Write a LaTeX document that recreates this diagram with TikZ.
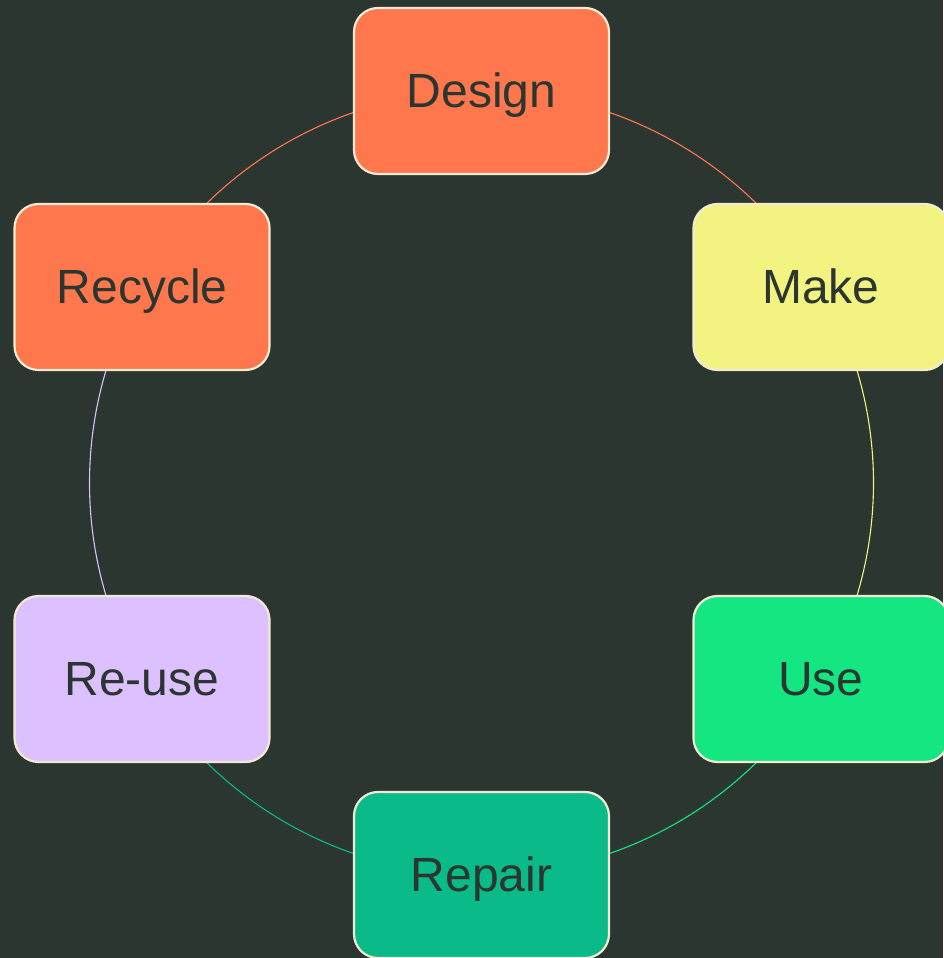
\documentclass[tikz,border=0pt]{standalone}
\usepackage{fontspec}
\setmainfont{Liberation Sans}
\definecolor{bgdark}{HTML}{2B3630}
\definecolor{edgecream}{HTML}{F2EBD3}
\definecolor{stageorange}{HTML}{FF774D}
\definecolor{stageyellow}{HTML}{F3F381}
\definecolor{stagegreen}{HTML}{14E681}
\definecolor{stageteal}{HTML}{0ABB89}
\definecolor{stagelilac}{HTML}{DCC0FF}
\tikzset{
  stage/.style={draw=edgecream, line width=2.2pt, rounded corners=24pt,
    minimum width=255pt, minimum height=166pt, inner sep=0pt,
    text height=33pt, text depth=0pt,
    text=bgdark, font=\fontsize{48}{56}\selectfont},
  loop/.style={line width=1.1pt},
}
\begin{document}
\begin{tikzpicture}[x=1pt,y=1pt]
  \fill[bgdark] (0,0) rectangle (943,958);
  \useasboundingbox (0,0) rectangle (943,958);
  \coordinate (c) at (481.5,475);
  % the cycle: arcs of one circle, each coloured as the stage it leaves
  \draw[loop, stageorange] ([shift={(150:392)}]c) arc[start angle=150, end angle=90, radius=392];
  \draw[loop, stageorange] ([shift={(90:392)}]c) arc[start angle=90, end angle=30, radius=392];
  \draw[loop, stageyellow] ([shift={(30:392)}]c) arc[start angle=30, end angle=-30, radius=392];
  \draw[loop, stagegreen] ([shift={(-30:392)}]c) arc[start angle=-30, end angle=-90, radius=392];
  \draw[loop, stageteal] ([shift={(-90:392)}]c) arc[start angle=-90, end angle=-150, radius=392];
  \draw[loop, stagelilac] ([shift={(210:392)}]c) arc[start angle=210, end angle=150, radius=392];
  % stages
  \node[stage, fill=stageorange] (design) at ([shift={(90:392)}]c) {Design};
  \node[stage, fill=stageyellow] (make) at ([shift={(30:392)}]c) {Make};
  \node[stage, fill=stagegreen] (use) at ([shift={(-30:392)}]c) {Use};
  \node[stage, fill=stageteal] (repair) at ([shift={(-90:392)}]c) {Repair};
  \node[stage, fill=stagelilac] (reuse) at ([shift={(210:392)}]c) {Re-use};
  \node[stage, fill=stageorange] (recycle) at ([shift={(150:392)}]c) {Recycle};
\end{tikzpicture}
\end{document}
